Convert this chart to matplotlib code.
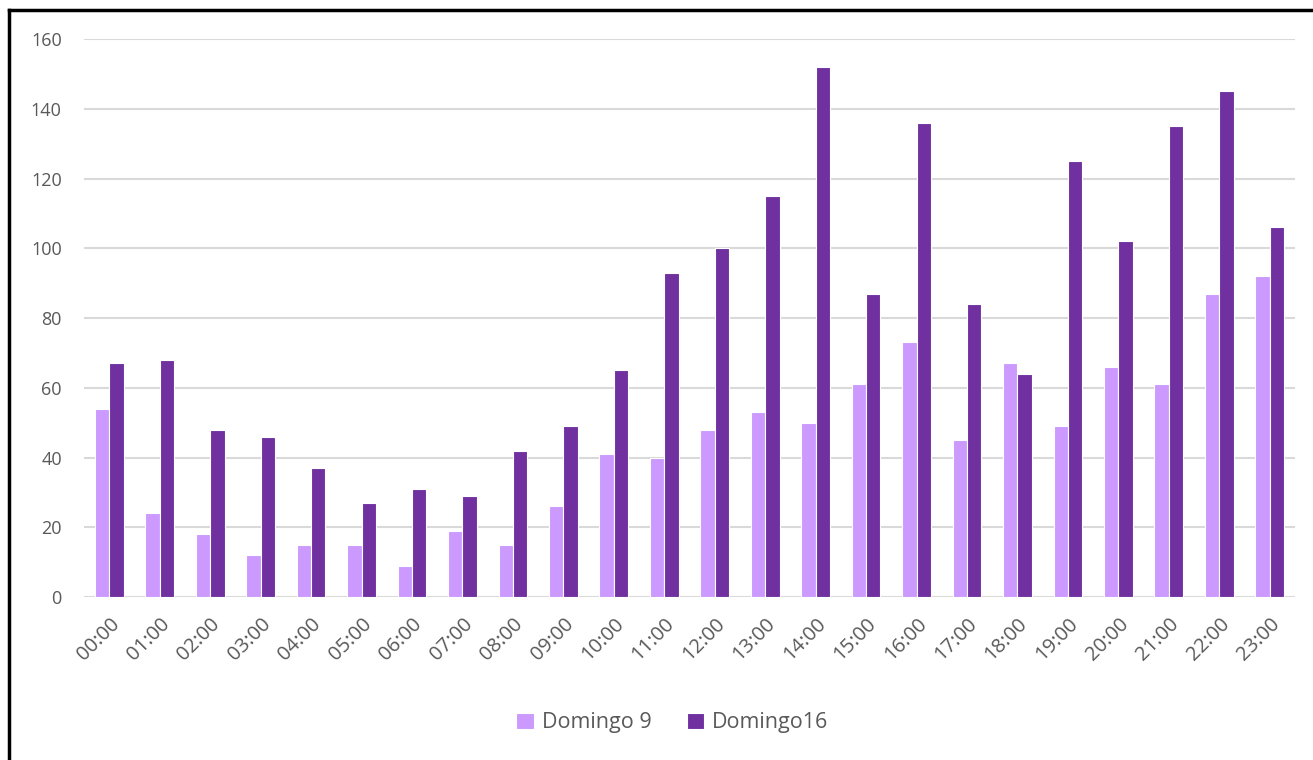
import numpy as np
import matplotlib
matplotlib.use("Agg")
import matplotlib.pyplot as plt
from matplotlib.lines import Line2D

# Hourly counts, two Sundays
hours = ["%02d:00" % h for h in range(24)]
domingo9 = [54, 24, 18, 12, 15, 15, 9, 19, 15, 26, 41, 40,
            48, 53, 50, 61, 73, 45, 67, 49, 66, 61, 87, 92]
domingo16 = [67, 68, 48, 46, 37, 27, 31, 29, 42, 49, 65, 93,
             100, 115, 152, 87, 136, 84, 64, 125, 102, 135, 145, 106]
series_names = ["Domingo 9", "Domingo16"]

plt.rcParams['font.family'] = ['Open Sans', 'DejaVu Sans']

fig = plt.figure(figsize=(13.13, 7.6), dpi=100)
ax = fig.add_axes([84 / 1313, 1 - 597 / 760, (1295 - 84) / 1313, (597 - 39) / 760])

x = np.arange(len(hours))
w = 0.285
ax.bar(x - w / 2, domingo9, w, color="#CC99FF", edgecolor="white", linewidth=0.8,
       label=series_names[0], zorder=3)
ax.bar(x + w / 2, domingo16, w, color="#7030A0", edgecolor="white", linewidth=0.8,
       label=series_names[1], zorder=3)

ax.set_xlim(-0.5, len(hours) - 0.5)
ax.set_ylim(0, 160)
ax.set_yticks(range(0, 161, 20))
ax.set_xticks(x)
ax.set_xticklabels(hours, rotation=45, ha="right", rotation_mode="anchor")
ax.tick_params(length=0, labelsize=13, labelcolor="#595959")
ax.tick_params(axis="x", labelsize=14.5, pad=12)
ax.tick_params(axis="y", pad=16)
ax.grid(axis="y", color="#D9D9D9", linewidth=1.5, zorder=0)
for s in ax.spines.values():
    s.set_visible(False)

leg = ax.legend(loc="upper center", bbox_to_anchor=(0.486, -0.172), ncol=2, frameon=False,
                fontsize=15.5, handlelength=0.8, handleheight=0.8, columnspacing=1.6,
                handletextpad=0.4)
for t in leg.get_texts():
    t.set_color("#595959")

# outer chart frame (left and top edge visible in the crop)
fig.add_artist(Line2D([9 / 1313, 9 / 1313], [0, 1 - 10 / 760], color="black", linewidth=2.5,
                      transform=fig.transFigure))
fig.add_artist(Line2D([9 / 1313, 1], [1 - 10 / 760, 1 - 10 / 760], color="black", linewidth=2.5,
                      transform=fig.transFigure))

fig.savefig("out.png", dpi=100)
